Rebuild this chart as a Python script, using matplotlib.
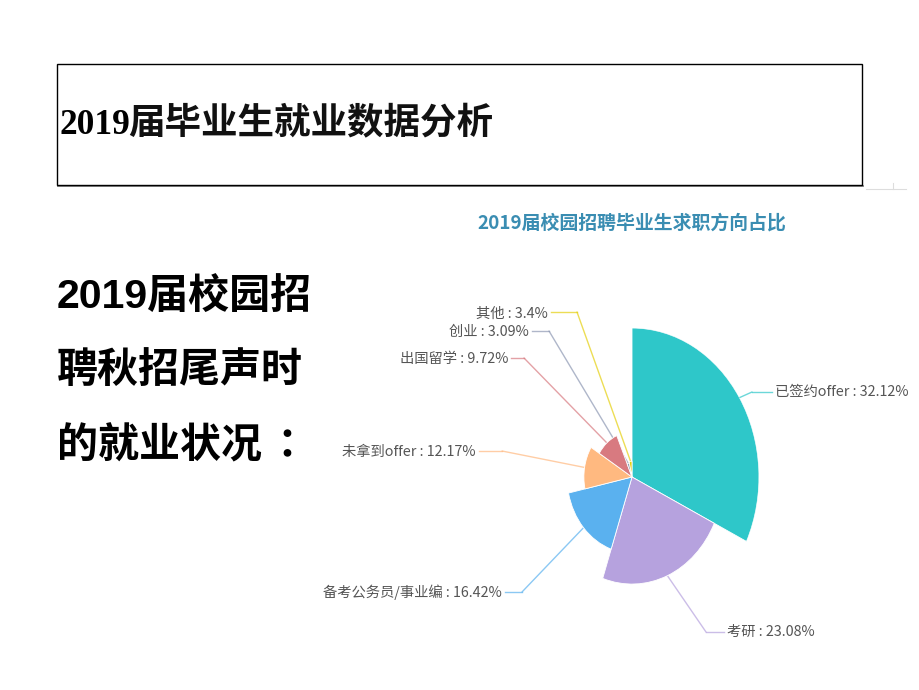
import numpy as np
import matplotlib
matplotlib.use("Agg")
import matplotlib.pyplot as plt
from matplotlib.patches import Rectangle

plt.rcParams['font.family'] = ['Noto Sans CJK SC', 'DejaVu Sans']

# ---------------- data ----------------
categories = ["已签约offer", "考研", "备考公务员/事业编", "未拿到offer", "出国留学", "创业", "其他"]
values = [32.12, 23.08, 16.42, 12.17, 9.72, 3.09, 3.4]
colors = ["#2ec7c9", "#b6a2de", "#5ab1ef", "#ffb980", "#d87a80", "#8d98b3", "#e5cf0d"]

title_year = "2019"
title_rest = "届毕业生就业数据分析"
side_lines = ["2019届校园招", "聘秋招尾声时", "的就业状况"]
side_colon = "："
chart_title = "2019届校园招聘毕业生求职方向占比"

# ---------------- layout (pixels) ----------------
W, H = 920, 690
cx, cy = 632, 477          # rose centre
rx, ry = 127, 149          # outer radius of the largest slice (horizontal, vertical)

# label layout: (elbow point, text anchor, ha)
label_layout = [
    ((752, 392), (775, 392), "left"),
    ((706, 632), (727, 632), "left"),
    ((522, 592), (502, 592), "right"),
    ((502, 451), (476, 452), "right"),
    ((524, 358), (508, 359), "right"),
    ((549, 331), (529, 332), "right"),
    ((577, 312), (548, 314), "right"),
]

fig = plt.figure(figsize=(W / 100, H / 100), dpi=100)
fig.patch.set_facecolor("white")

ov = fig.add_axes([0, 0, 1, 1])
ov.set_xlim(0, W)
ov.set_ylim(H, 0)
ov.axis("off")

# header box
ov.add_patch(Rectangle((57, 64), 805, 121, fill=False, edgecolor="black", linewidth=1.0, zorder=2))
ov.plot([58, 863], [186.3, 186.3], color="#888888", linewidth=1.4, zorder=1)
ov.plot([866, 906], [189, 189], color="#dddddd", linewidth=0.8)
ov.plot([893, 893], [183, 189], color="#dddddd", linewidth=0.8)

ov.text(60, 125, title_year, fontsize=25.5, fontweight="bold",
        family=["Liberation Serif"], va="center", ha="left", color="black")
ov.text(128, 123, title_rest, fontsize=26.3, fontweight="bold",
        family=["Noto Sans CJK SC"], va="center", ha="left", color="#111111")

for i, line in enumerate(side_lines):
    ov.text(57, 296 + 75 * i, line, fontsize=29.5, fontweight="bold",
            family=["Liberation Sans", "Noto Sans CJK SC"], va="center", ha="left", color="black")
ov.text(266, 446, side_colon, fontsize=29.5, fontweight="bold",
        family=["Noto Sans CJK TC"], va="center", ha="left", color="black")

ov.text(632, 223, chart_title, fontsize=13.6, fontweight="bold", color="#3a8db2",
        va="center", ha="center")

# rose chart
pax = fig.add_axes([(cx - rx) / W, (H - cy - ry) / H, 2 * rx / W, 2 * ry / H], projection="polar")
pax.set_aspect("auto")
pax.set_theta_offset(np.pi / 2)
pax.set_theta_direction(-1)
vals = np.array(values)
widths = vals / vals.sum() * 2 * np.pi
starts = np.concatenate([[0], np.cumsum(widths)[:-1]])
pax.bar(starts, vals, width=widths, align="edge", color=colors, edgecolor="white", linewidth=0.6)
pax.set_ylim(0, vals.max())
pax.axis("off")

for (elbow, tpos, ha), th0, w, v, c, name in zip(label_layout, starts, widths, vals, colors, categories):
    mid = th0 + w / 2
    ov.annotate("", xy=(mid, v), xycoords=pax.transData, xytext=elbow, textcoords="data",
                arrowprops=dict(arrowstyle="-", color=c, alpha=0.7, linewidth=1.0,
                                shrinkA=0, shrinkB=0))
    xend = tpos[0] - 3 if ha == "left" else tpos[0] + 3
    ov.plot([elbow[0], xend], [elbow[1], elbow[1]], color=c, alpha=0.7, linewidth=1.0)
    ov.text(tpos[0], tpos[1], f"{name} : {v:g}%", fontsize=10.3, color="#555555",
            va="center", ha=ha)

fig.savefig("out.png", dpi=100, facecolor="white")
